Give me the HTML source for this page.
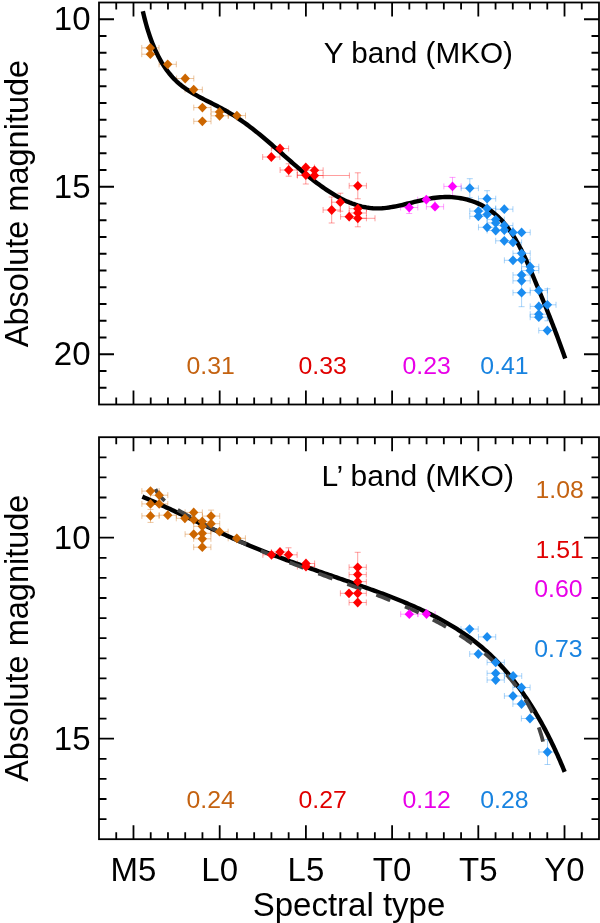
<!DOCTYPE html><html><head><meta charset="utf-8"><style>html,body{margin:0;padding:0;background:#fff;}svg{display:block;will-change:transform;}text{font-family:"Liberation Sans",sans-serif;}</style></head><body>
<svg width="600" height="923" viewBox="0 0 600 923">
<rect width="600" height="923" fill="#fff"/>
<g fill="none" stroke-width="1" stroke-opacity="0.38">
<path d="M141.78,47.90H159.02M141.78,44.90V50.90M159.02,44.90V50.90" stroke="#cc6600"/>
<path d="M141.78,54.20H159.02M141.78,51.20V57.20M159.02,51.20V57.20" stroke="#cc6600"/>
<path d="M159.08,64.30H176.32M159.08,61.30V67.30M176.32,61.30V67.30" stroke="#cc6600"/>
<path d="M176.58,78.50H193.82M176.58,75.50V81.50M193.82,75.50V81.50" stroke="#cc6600"/>
<path d="M185.08,89.60H202.32M185.08,86.60V92.60M202.32,86.60V92.60" stroke="#cc6600"/>
<path d="M193.78,107.60H211.02M193.78,104.60V110.60M211.02,104.60V110.60" stroke="#cc6600"/>
<path d="M193.78,121.30H211.02M193.78,118.30V124.30M211.02,118.30V124.30" stroke="#cc6600"/>
<path d="M210.98,111.90H228.22M210.98,108.90V114.90M228.22,108.90V114.90" stroke="#cc6600"/>
<path d="M210.98,115.80H228.22M210.98,112.80V118.80M228.22,112.80V118.80" stroke="#cc6600"/>
<path d="M228.28,115.60H245.52M228.28,112.60V118.60M245.52,112.60V118.60" stroke="#cc6600"/>
<path d="M271.38,148.50H288.62M271.38,145.50V151.50M288.62,145.50V151.50" stroke="#ff0000"/>
<path d="M262.68,157.00H279.92M262.68,154.00V160.00M279.92,154.00V160.00" stroke="#ff0000"/>
<path d="M280.08,170.00H297.32M280.08,167.00V173.00M297.32,167.00V173.00" stroke="#ff0000"/>
<path d="M288.70,163.80V176.20M285.70,163.80H291.70M285.70,176.20H291.70" stroke="#ff0000"/>
<path d="M297.18,167.50H314.42M297.18,164.50V170.50M314.42,164.50V170.50" stroke="#ff0000"/>
<path d="M297.18,175.00H314.42M297.18,172.00V178.00M314.42,172.00V178.00" stroke="#ff0000"/>
<path d="M305.80,166.00V184.00M302.80,166.00H308.80M302.80,184.00H308.80" stroke="#ff0000"/>
<path d="M305.88,170.30H323.12M305.88,167.30V173.30M323.12,167.30V173.30" stroke="#ff0000"/>
<path d="M305.88,175.50H323.12M305.88,172.50V178.50M323.12,172.50V178.50" stroke="#ff0000"/>
<path d="M349.18,185.80H366.42M349.18,182.80V188.80M366.42,182.80V188.80" stroke="#ff0000"/>
<path d="M357.80,172.80V198.80M354.80,172.80H360.80M354.80,198.80H360.80" stroke="#ff0000"/>
<path d="M331.68,202.20H348.92M331.68,199.20V205.20M348.92,199.20V205.20" stroke="#ff0000"/>
<path d="M340.30,193.20V211.20M337.30,193.20H343.30M337.30,211.20H343.30" stroke="#ff0000"/>
<path d="M323.08,210.00H340.32M323.08,207.00V213.00M340.32,207.00V213.00" stroke="#ff0000"/>
<path d="M331.70,197.00V223.00M328.70,197.00H334.70M328.70,223.00H334.70" stroke="#ff0000"/>
<path d="M340.58,216.70H357.82M340.58,213.70V219.70M357.82,213.70V219.70" stroke="#ff0000"/>
<path d="M349.18,208.70H366.42M349.18,205.70V211.70M366.42,205.70V211.70" stroke="#ff0000"/>
<path d="M349.18,213.00H366.42M349.18,210.00V216.00M366.42,210.00V216.00" stroke="#ff0000"/>
<path d="M349.18,218.30H366.42M349.18,215.30V221.30M366.42,215.30V221.30" stroke="#ff0000"/>
<path d="M357.80,209.80V226.80M354.80,209.80H360.80M354.80,226.80H360.80" stroke="#ff0000"/>
<path d="M400.58,207.50H417.82M400.58,204.50V210.50M417.82,204.50V210.50" stroke="#ff00ff"/>
<path d="M409.20,201.50V213.50M406.20,201.50H412.20M406.20,213.50H412.20" stroke="#ff00ff"/>
<path d="M417.68,199.70H434.92M417.68,196.70V202.70M434.92,196.70V202.70" stroke="#ff00ff"/>
<path d="M426.38,206.70H443.62M426.38,203.70V209.70M443.62,203.70V209.70" stroke="#ff00ff"/>
<path d="M443.88,186.40H461.12M443.88,183.40V189.40M461.12,183.40V189.40" stroke="#ff00ff"/>
<path d="M452.50,177.40V195.40M449.50,177.40H455.50M449.50,195.40H455.50" stroke="#ff00ff"/>
<path d="M461.18,188.20H478.42M461.18,185.20V191.20M478.42,185.20V191.20" stroke="#1a8cf0"/>
<path d="M469.80,178.70V197.70M466.80,178.70H472.80M466.80,197.70H472.80" stroke="#1a8cf0"/>
<path d="M478.48,198.70H495.72M478.48,195.70V201.70M495.72,195.70V201.70" stroke="#1a8cf0"/>
<path d="M487.10,190.70V206.70M484.10,190.70H490.10M484.10,206.70H490.10" stroke="#1a8cf0"/>
<path d="M469.78,211.10H487.02M469.78,208.10V214.10M487.02,208.10V214.10" stroke="#1a8cf0"/>
<path d="M469.78,216.30H487.02M469.78,213.30V219.30M487.02,213.30V219.30" stroke="#1a8cf0"/>
<path d="M478.48,208.40H495.72M478.48,205.40V211.40M495.72,205.40V211.40" stroke="#1a8cf0"/>
<path d="M478.48,214.40H495.72M478.48,211.40V217.40M495.72,211.40V217.40" stroke="#1a8cf0"/>
<path d="M495.68,209.20H512.92M495.68,206.20V212.20M512.92,206.20V212.20" stroke="#1a8cf0"/>
<path d="M487.08,219.60H504.32M487.08,216.60V222.60M504.32,216.60V222.60" stroke="#1a8cf0"/>
<path d="M487.08,222.90H504.32M487.08,219.90V225.90M504.32,219.90V225.90" stroke="#1a8cf0"/>
<path d="M478.48,227.30H495.72M478.48,224.30V230.30M495.72,224.30V230.30" stroke="#1a8cf0"/>
<path d="M487.08,230.50H504.32M487.08,227.50V233.50M504.32,227.50V233.50" stroke="#1a8cf0"/>
<path d="M495.68,225.50H512.92M495.68,222.50V228.50M512.92,222.50V228.50" stroke="#1a8cf0"/>
<path d="M495.68,230.00H512.92M495.68,227.00V233.00M512.92,227.00V233.00" stroke="#1a8cf0"/>
<path d="M504.38,232.40H521.62M504.38,229.40V235.40M521.62,229.40V235.40" stroke="#1a8cf0"/>
<path d="M512.98,232.40H530.22M512.98,229.40V235.40M530.22,229.40V235.40" stroke="#1a8cf0"/>
<path d="M495.68,240.80H512.92M495.68,237.80V243.80M512.92,237.80V243.80" stroke="#1a8cf0"/>
<path d="M504.38,242.40H521.62M504.38,239.40V245.40M521.62,239.40V245.40" stroke="#1a8cf0"/>
<path d="M512.98,253.30H530.22M512.98,250.30V256.30M530.22,250.30V256.30" stroke="#1a8cf0"/>
<path d="M504.38,260.30H521.62M504.38,257.30V263.30M521.62,257.30V263.30" stroke="#1a8cf0"/>
<path d="M512.98,259.70H530.22M512.98,256.70V262.70M530.22,256.70V262.70" stroke="#1a8cf0"/>
<path d="M521.58,266.70H538.82M521.58,263.70V269.70M538.82,263.70V269.70" stroke="#1a8cf0"/>
<path d="M521.58,270.50H538.82M521.58,267.50V273.50M538.82,267.50V273.50" stroke="#1a8cf0"/>
<path d="M512.98,275.00H530.22M512.98,272.00V278.00M530.22,272.00V278.00" stroke="#1a8cf0"/>
<path d="M512.98,280.80H530.22M512.98,277.80V283.80M530.22,277.80V283.80" stroke="#1a8cf0"/>
<path d="M512.98,292.70H530.22M512.98,289.70V295.70M530.22,289.70V295.70" stroke="#1a8cf0"/>
<path d="M521.60,278.70V306.70M518.60,278.70H524.60M518.60,306.70H524.60" stroke="#1a8cf0"/>
<path d="M530.18,290.40H547.42M530.18,287.40V293.40M547.42,287.40V293.40" stroke="#1a8cf0"/>
<path d="M538.78,304.80H556.02M538.78,301.80V307.80M556.02,301.80V307.80" stroke="#1a8cf0"/>
<path d="M547.40,288.80V320.80M544.40,288.80H550.40M544.40,320.80H550.40" stroke="#1a8cf0"/>
<path d="M530.18,306.40H547.42M530.18,303.40V309.40M547.42,303.40V309.40" stroke="#1a8cf0"/>
<path d="M530.18,314.20H547.42M530.18,311.20V317.20M547.42,311.20V317.20" stroke="#1a8cf0"/>
<path d="M530.18,317.20H547.42M530.18,314.20V320.20M547.42,314.20V320.20" stroke="#1a8cf0"/>
<path d="M538.78,330.50H556.02M538.78,327.50V333.50M556.02,327.50V333.50" stroke="#1a8cf0"/>
<path d="M297.4,175.5H349.4M297.4,172.5V178.5M349.4,172.5V178.5" stroke="#ff0000"/>
<path d="M357.8,218.3H375M357.8,215.3V221.3M375,215.3V221.3" stroke="#ff0000"/>
</g>
<path d="M142.85,11.25 L143.38,13.53 L143.92,15.82 L144.49,18.12 L145.08,20.41 L145.69,22.71 L146.33,25.01 L146.99,27.31 L147.68,29.61 L148.40,31.90 L149.14,34.18 L149.91,36.45 L150.71,38.72 L151.54,40.97 L152.40,43.20 L153.30,45.42 L154.22,47.62 L155.18,49.80 L156.17,51.96 L157.20,54.10 L158.26,56.21 L159.36,58.29 L160.50,60.34 L161.67,62.37 L162.89,64.36 L164.14,66.32 L165.44,68.24 L166.77,70.12 L168.15,71.96 L169.57,73.76 L171.04,75.52 L172.55,77.23 L174.11,78.90 L175.71,80.51 L177.36,82.08 L179.06,83.59 L180.81,85.05 L182.60,86.46 L184.44,87.83 L186.31,89.14 L188.23,90.42 L190.17,91.67 L192.15,92.87 L194.15,94.05 L196.18,95.20 L198.23,96.33 L200.30,97.44 L202.38,98.53 L204.47,99.61 L206.58,100.68 L208.69,101.75 L210.80,102.81 L212.91,103.87 L215.02,104.94 L217.12,106.01 L219.22,107.10 L221.30,108.20 L223.37,109.32 L225.41,110.46 L227.44,111.62 L229.45,112.81 L231.44,114.01 L233.41,115.24 L235.36,116.49 L237.30,117.76 L239.22,119.05 L241.12,120.36 L243.01,121.69 L244.89,123.03 L246.75,124.39 L248.60,125.77 L250.44,127.16 L252.27,128.57 L254.08,129.99 L255.89,131.42 L257.69,132.86 L259.48,134.32 L261.26,135.79 L263.04,137.27 L264.81,138.75 L266.58,140.25 L268.34,141.76 L270.09,143.27 L271.85,144.79 L273.60,146.31 L275.35,147.84 L277.10,149.38 L278.85,150.92 L280.60,152.46 L282.35,154.00 L284.10,155.55 L285.85,157.10 L287.61,158.65 L289.38,160.19 L291.14,161.74 L292.92,163.29 L294.70,164.83 L296.48,166.37 L298.28,167.90 L300.08,169.44 L301.89,170.96 L303.72,172.48 L305.55,174.00 L307.39,175.50 L309.25,177.00 L311.12,178.49 L313.00,179.97 L314.90,181.44 L316.81,182.89 L318.73,184.33 L320.67,185.74 L322.62,187.14 L324.58,188.51 L326.55,189.86 L328.54,191.17 L330.53,192.46 L332.54,193.71 L334.57,194.93 L336.60,196.11 L338.65,197.26 L340.71,198.36 L342.78,199.41 L344.86,200.42 L346.96,201.38 L349.06,202.29 L351.18,203.15 L353.31,203.95 L355.45,204.69 L357.60,205.37 L359.76,205.99 L361.93,206.54 L364.12,207.03 L366.31,207.45 L368.52,207.79 L370.73,208.07 L372.96,208.26 L375.20,208.38 L377.44,208.42 L379.70,208.38 L381.97,208.26 L384.24,208.08 L386.53,207.83 L388.82,207.53 L391.12,207.17 L393.42,206.77 L395.73,206.33 L398.05,205.85 L400.37,205.34 L402.70,204.81 L405.03,204.25 L407.37,203.69 L409.71,203.11 L412.05,202.53 L414.39,201.95 L416.73,201.38 L419.08,200.82 L421.43,200.28 L423.77,199.76 L426.12,199.27 L428.46,198.81 L430.80,198.40 L433.14,198.03 L435.48,197.70 L437.82,197.44 L440.15,197.23 L442.47,197.09 L444.79,197.01 L447.11,197.00 L449.41,197.04 L451.70,197.16 L453.98,197.33 L456.25,197.57 L458.50,197.87 L460.74,198.23 L462.96,198.66 L465.16,199.15 L467.34,199.70 L469.50,200.31 L471.63,200.98 L473.74,201.72 L475.82,202.52 L477.88,203.38 L479.90,204.30 L481.90,205.29 L483.86,206.33 L485.79,207.44 L487.68,208.61 L489.54,209.84 L491.36,211.13 L493.14,212.48 L494.88,213.89 L496.57,215.36 L498.23,216.90 L499.85,218.48 L501.42,220.12 L502.96,221.81 L504.46,223.56 L505.93,225.34 L507.36,227.18 L508.76,229.05 L510.13,230.97 L511.46,232.92 L512.76,234.91 L514.04,236.93 L515.28,238.98 L516.50,241.06 L517.69,243.16 L518.86,245.29 L520.00,247.44 L521.12,249.62 L522.22,251.80 L523.30,254.00 L524.35,256.22 L525.39,258.44 L526.41,260.67 L527.42,262.91 L528.41,265.15 L529.38,267.39 L530.34,269.63 L531.29,271.86 L532.23,274.09 L533.15,276.31 L534.07,278.52 L534.98,280.72 L535.88,282.90 L536.78,285.07 L537.67,287.22 L538.56,289.36 L539.43,291.49 L540.31,293.61 L541.17,295.73 L542.04,297.83 L542.89,299.93 L543.75,302.02 L544.59,304.11 L545.44,306.20 L546.28,308.29 L547.12,310.37 L547.95,312.46 L548.78,314.55 L549.61,316.64 L550.44,318.73 L551.26,320.84 L552.09,322.94 L552.91,325.06 L553.73,327.19 L554.55,329.32 L555.37,331.47 L556.18,333.63 L557.00,335.80 L557.82,337.99 L558.64,340.20 L559.46,342.42 L560.28,344.66 L561.10,346.92 L561.92,349.21 L562.74,351.51 L563.57,353.84 L564.40,356.19 L565.23,358.57" fill="none" stroke="#000" stroke-width="4.4"/>
<path d="M150.40,43.00 L155.10,47.90 L150.40,52.80 L145.70,47.90Z" fill="#cc6600"/>
<path d="M150.40,49.30 L155.10,54.20 L150.40,59.10 L145.70,54.20Z" fill="#cc6600"/>
<path d="M167.70,59.40 L172.40,64.30 L167.70,69.20 L163.00,64.30Z" fill="#cc6600"/>
<path d="M185.20,73.60 L189.90,78.50 L185.20,83.40 L180.50,78.50Z" fill="#cc6600"/>
<path d="M193.70,84.70 L198.40,89.60 L193.70,94.50 L189.00,89.60Z" fill="#cc6600"/>
<path d="M202.40,102.70 L207.10,107.60 L202.40,112.50 L197.70,107.60Z" fill="#cc6600"/>
<path d="M202.40,116.40 L207.10,121.30 L202.40,126.20 L197.70,121.30Z" fill="#cc6600"/>
<path d="M219.60,107.00 L224.30,111.90 L219.60,116.80 L214.90,111.90Z" fill="#cc6600"/>
<path d="M219.60,110.90 L224.30,115.80 L219.60,120.70 L214.90,115.80Z" fill="#cc6600"/>
<path d="M236.90,110.70 L241.60,115.60 L236.90,120.50 L232.20,115.60Z" fill="#cc6600"/>
<path d="M280.00,143.60 L284.70,148.50 L280.00,153.40 L275.30,148.50Z" fill="#ff0000"/>
<path d="M271.30,152.10 L276.00,157.00 L271.30,161.90 L266.60,157.00Z" fill="#ff0000"/>
<path d="M288.70,165.10 L293.40,170.00 L288.70,174.90 L284.00,170.00Z" fill="#ff0000"/>
<path d="M305.80,162.60 L310.50,167.50 L305.80,172.40 L301.10,167.50Z" fill="#ff0000"/>
<path d="M305.80,170.10 L310.50,175.00 L305.80,179.90 L301.10,175.00Z" fill="#ff0000"/>
<path d="M314.50,165.40 L319.20,170.30 L314.50,175.20 L309.80,170.30Z" fill="#ff0000"/>
<path d="M314.50,170.60 L319.20,175.50 L314.50,180.40 L309.80,175.50Z" fill="#ff0000"/>
<path d="M357.80,180.90 L362.50,185.80 L357.80,190.70 L353.10,185.80Z" fill="#ff0000"/>
<path d="M340.30,197.30 L345.00,202.20 L340.30,207.10 L335.60,202.20Z" fill="#ff0000"/>
<path d="M331.70,205.10 L336.40,210.00 L331.70,214.90 L327.00,210.00Z" fill="#ff0000"/>
<path d="M349.20,211.80 L353.90,216.70 L349.20,221.60 L344.50,216.70Z" fill="#ff0000"/>
<path d="M357.80,203.80 L362.50,208.70 L357.80,213.60 L353.10,208.70Z" fill="#ff0000"/>
<path d="M357.80,208.10 L362.50,213.00 L357.80,217.90 L353.10,213.00Z" fill="#ff0000"/>
<path d="M357.80,213.40 L362.50,218.30 L357.80,223.20 L353.10,218.30Z" fill="#ff0000"/>
<path d="M409.20,202.60 L413.90,207.50 L409.20,212.40 L404.50,207.50Z" fill="#ff00ff"/>
<path d="M426.30,194.80 L431.00,199.70 L426.30,204.60 L421.60,199.70Z" fill="#ff00ff"/>
<path d="M435.00,201.80 L439.70,206.70 L435.00,211.60 L430.30,206.70Z" fill="#ff00ff"/>
<path d="M452.50,181.50 L457.20,186.40 L452.50,191.30 L447.80,186.40Z" fill="#ff00ff"/>
<path d="M469.80,183.30 L474.50,188.20 L469.80,193.10 L465.10,188.20Z" fill="#1a8cf0"/>
<path d="M487.10,193.80 L491.80,198.70 L487.10,203.60 L482.40,198.70Z" fill="#1a8cf0"/>
<path d="M478.40,206.20 L483.10,211.10 L478.40,216.00 L473.70,211.10Z" fill="#1a8cf0"/>
<path d="M478.40,211.40 L483.10,216.30 L478.40,221.20 L473.70,216.30Z" fill="#1a8cf0"/>
<path d="M487.10,203.50 L491.80,208.40 L487.10,213.30 L482.40,208.40Z" fill="#1a8cf0"/>
<path d="M487.10,209.50 L491.80,214.40 L487.10,219.30 L482.40,214.40Z" fill="#1a8cf0"/>
<path d="M504.30,204.30 L509.00,209.20 L504.30,214.10 L499.60,209.20Z" fill="#1a8cf0"/>
<path d="M495.70,214.70 L500.40,219.60 L495.70,224.50 L491.00,219.60Z" fill="#1a8cf0"/>
<path d="M495.70,218.00 L500.40,222.90 L495.70,227.80 L491.00,222.90Z" fill="#1a8cf0"/>
<path d="M487.10,222.40 L491.80,227.30 L487.10,232.20 L482.40,227.30Z" fill="#1a8cf0"/>
<path d="M495.70,225.60 L500.40,230.50 L495.70,235.40 L491.00,230.50Z" fill="#1a8cf0"/>
<path d="M504.30,220.60 L509.00,225.50 L504.30,230.40 L499.60,225.50Z" fill="#1a8cf0"/>
<path d="M504.30,225.10 L509.00,230.00 L504.30,234.90 L499.60,230.00Z" fill="#1a8cf0"/>
<path d="M513.00,227.50 L517.70,232.40 L513.00,237.30 L508.30,232.40Z" fill="#1a8cf0"/>
<path d="M521.60,227.50 L526.30,232.40 L521.60,237.30 L516.90,232.40Z" fill="#1a8cf0"/>
<path d="M504.30,235.90 L509.00,240.80 L504.30,245.70 L499.60,240.80Z" fill="#1a8cf0"/>
<path d="M513.00,237.50 L517.70,242.40 L513.00,247.30 L508.30,242.40Z" fill="#1a8cf0"/>
<path d="M521.60,248.40 L526.30,253.30 L521.60,258.20 L516.90,253.30Z" fill="#1a8cf0"/>
<path d="M513.00,255.40 L517.70,260.30 L513.00,265.20 L508.30,260.30Z" fill="#1a8cf0"/>
<path d="M521.60,254.80 L526.30,259.70 L521.60,264.60 L516.90,259.70Z" fill="#1a8cf0"/>
<path d="M530.20,261.80 L534.90,266.70 L530.20,271.60 L525.50,266.70Z" fill="#1a8cf0"/>
<path d="M530.20,265.60 L534.90,270.50 L530.20,275.40 L525.50,270.50Z" fill="#1a8cf0"/>
<path d="M521.60,270.10 L526.30,275.00 L521.60,279.90 L516.90,275.00Z" fill="#1a8cf0"/>
<path d="M521.60,275.90 L526.30,280.80 L521.60,285.70 L516.90,280.80Z" fill="#1a8cf0"/>
<path d="M521.60,287.80 L526.30,292.70 L521.60,297.60 L516.90,292.70Z" fill="#1a8cf0"/>
<path d="M538.80,285.50 L543.50,290.40 L538.80,295.30 L534.10,290.40Z" fill="#1a8cf0"/>
<path d="M547.40,299.90 L552.10,304.80 L547.40,309.70 L542.70,304.80Z" fill="#1a8cf0"/>
<path d="M538.80,301.50 L543.50,306.40 L538.80,311.30 L534.10,306.40Z" fill="#1a8cf0"/>
<path d="M538.80,309.30 L543.50,314.20 L538.80,319.10 L534.10,314.20Z" fill="#1a8cf0"/>
<path d="M538.80,312.30 L543.50,317.20 L538.80,322.10 L534.10,317.20Z" fill="#1a8cf0"/>
<path d="M547.40,325.60 L552.10,330.50 L547.40,335.40 L542.70,330.50Z" fill="#1a8cf0"/>
<rect x="99.0" y="2.5" width="500.0" height="402.0" fill="none" stroke="#000" stroke-width="1.8"/>
<path d="M116.24,404.50v-7M116.24,2.50v7M133.48,404.50v-14M133.48,2.50v14M150.72,404.50v-7M150.72,2.50v7M167.97,404.50v-7M167.97,2.50v7M185.21,404.50v-7M185.21,2.50v7M202.45,404.50v-7M202.45,2.50v7M219.69,404.50v-14M219.69,2.50v14M236.93,404.50v-7M236.93,2.50v7M254.17,404.50v-7M254.17,2.50v7M271.41,404.50v-7M271.41,2.50v7M288.66,404.50v-7M288.66,2.50v7M305.90,404.50v-14M305.90,2.50v14M323.14,404.50v-7M323.14,2.50v7M340.38,404.50v-7M340.38,2.50v7M357.62,404.50v-7M357.62,2.50v7M374.86,404.50v-7M374.86,2.50v7M392.10,404.50v-14M392.10,2.50v14M409.34,404.50v-7M409.34,2.50v7M426.59,404.50v-7M426.59,2.50v7M443.83,404.50v-7M443.83,2.50v7M461.07,404.50v-7M461.07,2.50v7M478.31,404.50v-14M478.31,2.50v14M495.55,404.50v-7M495.55,2.50v7M512.79,404.50v-7M512.79,2.50v7M530.03,404.50v-7M530.03,2.50v7M547.28,404.50v-7M547.28,2.50v7M564.52,404.50v-14M564.52,2.50v14M581.76,404.50v-7M581.76,2.50v7M99.0,19.25h15M599.0,19.25h-15M99.0,36.00h7.5M599.0,36.00h-7.5M99.0,52.75h7.5M599.0,52.75h-7.5M99.0,69.50h7.5M599.0,69.50h-7.5M99.0,86.25h7.5M599.0,86.25h-7.5M99.0,103.00h7.5M599.0,103.00h-7.5M99.0,119.75h7.5M599.0,119.75h-7.5M99.0,136.50h7.5M599.0,136.50h-7.5M99.0,153.25h7.5M599.0,153.25h-7.5M99.0,170.00h7.5M599.0,170.00h-7.5M99.0,186.75h15M599.0,186.75h-15M99.0,203.50h7.5M599.0,203.50h-7.5M99.0,220.25h7.5M599.0,220.25h-7.5M99.0,237.00h7.5M599.0,237.00h-7.5M99.0,253.75h7.5M599.0,253.75h-7.5M99.0,270.50h7.5M599.0,270.50h-7.5M99.0,287.25h7.5M599.0,287.25h-7.5M99.0,304.00h7.5M599.0,304.00h-7.5M99.0,320.75h7.5M599.0,320.75h-7.5M99.0,337.50h7.5M599.0,337.50h-7.5M99.0,354.25h15M599.0,354.25h-15M99.0,371.00h7.5M599.0,371.00h-7.5M99.0,387.75h7.5M599.0,387.75h-7.5" stroke="#000" stroke-width="1.8" fill="none"/>
<text x="90.5" y="30.45" text-anchor="end" font-size="33">10</text>
<text x="90.5" y="197.95" text-anchor="end" font-size="33">15</text>
<text x="90.5" y="365.45" text-anchor="end" font-size="33">20</text>
<g fill="none" stroke-width="1" stroke-opacity="0.38">
<path d="M141.88,491.10H159.12M141.88,488.10V494.10M159.12,488.10V494.10" stroke="#cc6600"/>
<path d="M150.58,495.20H167.82M150.58,492.20V498.20M167.82,492.20V498.20" stroke="#cc6600"/>
<path d="M141.88,503.90H159.12M141.88,500.90V506.90M159.12,500.90V506.90" stroke="#cc6600"/>
<path d="M150.58,503.90H167.82M150.58,500.90V506.90M167.82,500.90V506.90" stroke="#cc6600"/>
<path d="M141.88,515.90H159.12M141.88,512.90V518.90M159.12,512.90V518.90" stroke="#cc6600"/>
<path d="M150.50,509.40V522.40M147.50,509.40H153.50M147.50,522.40H153.50" stroke="#cc6600"/>
<path d="M159.18,515.20H176.42M159.18,512.20V518.20M176.42,512.20V518.20" stroke="#cc6600"/>
<path d="M176.28,518.30H193.52M176.28,515.30V521.30M193.52,515.30V521.30" stroke="#cc6600"/>
<path d="M185.08,512.40H202.32M185.08,509.40V515.40M202.32,509.40V515.40" stroke="#cc6600"/>
<path d="M185.08,519.70H202.32M185.08,516.70V522.70M202.32,516.70V522.70" stroke="#cc6600"/>
<path d="M185.08,534.20H202.32M185.08,531.20V537.20M202.32,531.20V537.20" stroke="#cc6600"/>
<path d="M193.68,521.40H210.92M193.68,518.40V524.40M210.92,518.40V524.40" stroke="#cc6600"/>
<path d="M193.68,526.30H210.92M193.68,523.30V529.30M210.92,523.30V529.30" stroke="#cc6600"/>
<path d="M193.68,533.30H210.92M193.68,530.30V536.30M210.92,530.30V536.30" stroke="#cc6600"/>
<path d="M193.68,538.80H210.92M193.68,535.80V541.80M210.92,535.80V541.80" stroke="#cc6600"/>
<path d="M193.68,547.20H210.92M193.68,544.20V550.20M210.92,544.20V550.20" stroke="#cc6600"/>
<path d="M202.48,516.10H219.72M202.48,513.10V519.10M219.72,513.10V519.10" stroke="#cc6600"/>
<path d="M211.10,510.10V522.10M208.10,510.10H214.10M208.10,522.10H214.10" stroke="#cc6600"/>
<path d="M202.48,523.70H219.72M202.48,520.70V526.70M219.72,520.70V526.70" stroke="#cc6600"/>
<path d="M210.88,531.70H228.12M210.88,528.70V534.70M228.12,528.70V534.70" stroke="#cc6600"/>
<path d="M228.18,538.30H245.42M228.18,535.30V541.30M245.42,535.30V541.30" stroke="#cc6600"/>
<path d="M262.88,554.80H280.12M262.88,551.80V557.80M280.12,551.80V557.80" stroke="#ff0000"/>
<path d="M271.38,552.00H288.62M271.38,549.00V555.00M288.62,549.00V555.00" stroke="#ff0000"/>
<path d="M279.88,554.80H297.12M279.88,551.80V557.80M297.12,551.80V557.80" stroke="#ff0000"/>
<path d="M288.50,547.80V561.80M285.50,547.80H291.50M285.50,561.80H291.50" stroke="#ff0000"/>
<path d="M297.38,563.50H314.62M297.38,560.50V566.50M314.62,560.50V566.50" stroke="#ff0000"/>
<path d="M297.38,566.50H314.62M297.38,563.50V569.50M314.62,563.50V569.50" stroke="#ff0000"/>
<path d="M349.08,567.30H366.32M349.08,564.30V570.30M366.32,564.30V570.30" stroke="#ff0000"/>
<path d="M357.70,552.30V582.30M354.70,552.30H360.70M354.70,582.30H360.70" stroke="#ff0000"/>
<path d="M349.08,574.60H366.32M349.08,571.60V577.60M366.32,571.60V577.60" stroke="#ff0000"/>
<path d="M349.08,581.70H366.32M349.08,578.70V584.70M366.32,578.70V584.70" stroke="#ff0000"/>
<path d="M349.08,593.30H366.32M349.08,590.30V596.30M366.32,590.30V596.30" stroke="#ff0000"/>
<path d="M340.38,593.30H357.62M340.38,590.30V596.30M357.62,590.30V596.30" stroke="#ff0000"/>
<path d="M349.08,602.50H366.32M349.08,599.50V605.50M366.32,599.50V605.50" stroke="#ff0000"/>
<path d="M400.68,614.20H417.92M400.68,611.20V617.20M417.92,611.20V617.20" stroke="#ff00ff"/>
<path d="M417.88,614.00H435.12M417.88,611.00V617.00M435.12,611.00V617.00" stroke="#ff00ff"/>
<path d="M460.98,629.10H478.22M460.98,626.10V632.10M478.22,626.10V632.10" stroke="#1a8cf0"/>
<path d="M478.48,636.90H495.72M478.48,633.90V639.90M495.72,633.90V639.90" stroke="#1a8cf0"/>
<path d="M469.68,654.00H486.92M469.68,651.00V657.00M486.92,651.00V657.00" stroke="#1a8cf0"/>
<path d="M487.08,662.40H504.32M487.08,659.40V665.40M504.32,659.40V665.40" stroke="#1a8cf0"/>
<path d="M487.08,673.30H504.32M487.08,670.30V676.30M504.32,670.30V676.30" stroke="#1a8cf0"/>
<path d="M487.08,680.00H504.32M487.08,677.00V683.00M504.32,677.00V683.00" stroke="#1a8cf0"/>
<path d="M504.48,676.00H521.72M504.48,673.00V679.00M521.72,673.00V679.00" stroke="#1a8cf0"/>
<path d="M512.88,687.50H530.12M512.88,684.50V690.50M530.12,684.50V690.50" stroke="#1a8cf0"/>
<path d="M504.38,696.00H521.62M504.38,693.00V699.00M521.62,693.00V699.00" stroke="#1a8cf0"/>
<path d="M512.88,704.00H530.12M512.88,701.00V707.00M530.12,701.00V707.00" stroke="#1a8cf0"/>
<path d="M521.38,718.50H538.62M521.38,715.50V721.50M538.62,715.50V721.50" stroke="#1a8cf0"/>
<path d="M538.88,752.00H556.12M538.88,749.00V755.00M556.12,749.00V755.00" stroke="#1a8cf0"/>
<path d="M547.50,739.50V764.50M544.50,739.50H550.50M544.50,764.50H550.50" stroke="#1a8cf0"/>
</g>
<path d="M142.35,496.64 L144.20,497.45 L146.06,498.26 L147.92,499.07 L149.77,499.89 L151.62,500.71 L153.47,501.54 L155.32,502.37 L157.17,503.20 L159.02,504.04 L160.86,504.88 L162.70,505.72 L164.55,506.57 L166.39,507.42 L168.23,508.27 L170.07,509.12 L171.91,509.97 L173.74,510.83 L175.58,511.68 L177.42,512.54 L179.25,513.40 L181.09,514.26 L182.92,515.13 L184.75,515.99 L186.59,516.85 L188.42,517.72 L190.25,518.58 L192.09,519.45 L193.92,520.31 L195.75,521.18 L197.58,522.04 L199.42,522.90 L201.25,523.77 L203.08,524.63 L204.91,525.49 L206.75,526.35 L208.58,527.21 L210.42,528.06 L212.25,528.92 L214.09,529.77 L215.92,530.62 L217.76,531.47 L219.60,532.32 L221.44,533.16 L223.28,534.00 L225.12,534.84 L226.96,535.68 L228.80,536.51 L230.65,537.34 L232.49,538.16 L234.34,538.98 L236.19,539.80 L238.04,540.61 L239.89,541.42 L241.74,542.23 L243.60,543.03 L245.46,543.82 L247.31,544.61 L249.17,545.40 L251.04,546.18 L252.90,546.95 L254.77,547.72 L256.64,548.49 L258.51,549.24 L260.38,550.00 L262.25,550.74 L264.13,551.49 L266.01,552.23 L267.89,552.96 L269.77,553.69 L271.66,554.41 L273.54,555.13 L275.43,555.85 L277.32,556.56 L279.21,557.27 L281.10,557.97 L282.99,558.67 L284.89,559.37 L286.78,560.07 L288.68,560.76 L290.58,561.45 L292.48,562.13 L294.38,562.81 L296.29,563.49 L298.19,564.17 L300.10,564.85 L302.00,565.52 L303.91,566.19 L305.82,566.86 L307.73,567.53 L309.64,568.19 L311.55,568.86 L313.46,569.52 L315.37,570.18 L317.28,570.84 L319.20,571.50 L321.11,572.16 L323.03,572.82 L324.94,573.48 L326.86,574.13 L328.78,574.79 L330.69,575.45 L332.61,576.10 L334.53,576.76 L336.45,577.42 L338.37,578.08 L340.29,578.73 L342.21,579.39 L344.12,580.05 L346.04,580.71 L347.96,581.38 L349.88,582.04 L351.80,582.71 L353.72,583.37 L355.64,584.04 L357.56,584.71 L359.48,585.38 L361.40,586.06 L363.32,586.73 L365.23,587.41 L367.15,588.09 L369.07,588.78 L370.98,589.47 L372.90,590.16 L374.81,590.85 L376.72,591.55 L378.63,592.25 L380.54,592.96 L382.45,593.67 L384.35,594.38 L386.25,595.10 L388.15,595.83 L390.05,596.56 L391.94,597.29 L393.83,598.03 L395.72,598.78 L397.60,599.53 L399.48,600.29 L401.36,601.05 L403.24,601.82 L405.11,602.60 L406.97,603.39 L408.83,604.18 L410.69,604.98 L412.54,605.78 L414.39,606.60 L416.23,607.42 L418.07,608.25 L419.90,609.09 L421.73,609.93 L423.55,610.79 L425.37,611.65 L427.18,612.53 L428.98,613.41 L430.78,614.30 L432.57,615.20 L434.35,616.12 L436.13,617.04 L437.90,617.97 L439.66,618.91 L441.42,619.87 L443.17,620.83 L444.91,621.80 L446.65,622.79 L448.37,623.79 L450.09,624.80 L451.80,625.82 L453.50,626.85 L455.20,627.90 L456.88,628.96 L458.56,630.03 L460.22,631.11 L461.88,632.21 L463.53,633.32 L465.17,634.45 L466.80,635.58 L468.42,636.74 L470.03,637.90 L471.63,639.08 L473.21,640.28 L474.79,641.48 L476.36,642.71 L477.92,643.95 L479.46,645.20 L481.00,646.47 L482.52,647.76 L484.03,649.06 L485.53,650.38 L487.02,651.71 L488.50,653.06 L489.97,654.43 L491.42,655.81 L492.86,657.21 L494.29,658.62 L495.71,660.05 L497.12,661.49 L498.51,662.95 L499.89,664.42 L501.27,665.90 L502.63,667.40 L503.97,668.91 L505.31,670.44 L506.64,671.97 L507.95,673.52 L509.26,675.09 L510.55,676.66 L511.83,678.25 L513.10,679.84 L514.36,681.45 L515.61,683.07 L516.84,684.70 L518.07,686.34 L519.28,687.99 L520.49,689.65 L521.68,691.32 L522.86,693.00 L524.03,694.69 L525.19,696.39 L526.34,698.09 L527.48,699.80 L528.61,701.53 L529.72,703.25 L530.83,704.99 L531.93,706.73 L533.01,708.48 L534.09,710.24 L535.15,712.00 L536.21,713.77 L537.25,715.54 L538.29,717.32 L539.31,719.11 L540.32,720.90 L541.33,722.69 L542.32,724.49 L543.30,726.29 L544.27,728.10 L545.24,729.91 L546.19,731.72 L547.13,733.54 L548.06,735.36 L548.99,737.18 L549.90,739.00 L550.80,740.83 L551.69,742.65 L552.58,744.48 L553.45,746.31 L554.32,748.14 L555.17,749.97 L556.01,751.80 L556.85,753.63 L557.68,755.46 L558.49,757.29 L559.30,759.12 L560.10,760.95 L560.88,762.77 L561.66,764.60 L562.43,766.42 L563.19,768.24 L563.94,770.06 L564.69,771.87" fill="none" stroke="#000" stroke-width="4.4"/>
<path d="M154.78,487.98 L155.70,489.77 L156.68,491.47 L157.75,493.10 L158.87,494.65 L160.07,496.13 L161.32,497.54 L162.63,498.89 L163.98,500.18 L165.39,501.41 L166.84,502.60 L168.33,503.75 L169.85,504.85 L171.40,505.92 L172.98,506.95 L174.58,507.96 L176.20,508.95 L177.83,509.92 L179.48,510.87 L181.13,511.82 L182.78,512.76 L184.43,513.69 L186.09,514.62 L187.74,515.54 L189.40,516.46 L191.06,517.37 L192.73,518.28 L194.39,519.18 L196.06,520.07 L197.73,520.96 L199.40,521.85 L201.08,522.73 L202.76,523.61 L204.43,524.48 L206.11,525.34 L207.80,526.20 L209.48,527.06 L211.17,527.91 L212.85,528.76 L214.54,529.60 L216.23,530.43 L217.93,531.27 L219.62,532.09 L221.32,532.92 L223.02,533.74 L224.72,534.55 L226.42,535.36 L228.13,536.17 L229.84,536.97 L231.54,537.77 L233.25,538.56 L234.97,539.35 L236.68,540.14 L238.40,540.92 L240.11,541.70 L241.83,542.48 L243.55,543.25 L245.27,544.01 L247.00,544.78 L248.72,545.54 L250.45,546.29 L252.18,547.05 L253.91,547.80 L255.64,548.54 L257.37,549.29 L259.11,550.03 L260.85,550.76 L262.58,551.50 L264.32,552.23 L266.07,552.96 L267.81,553.68 L269.55,554.40 L271.30,555.12 L273.05,555.84 L274.79,556.55 L276.55,557.26 L278.30,557.97 L280.05,558.67 L281.80,559.38 L283.56,560.08 L285.32,560.78 L287.08,561.47 L288.84,562.17 L290.60,562.86 L292.36,563.55 L294.12,564.23 L295.89,564.92 L297.66,565.60 L299.42,566.28 L301.19,566.96 L302.96,567.64 L304.73,568.31 L306.51,568.99 L308.28,569.66 L310.06,570.33 L311.83,571.00 L313.61,571.67 L315.39,572.33 L317.17,573.00 L318.95,573.66 L320.73,574.32 L322.51,574.98 L324.30,575.64 L326.08,576.30 L327.87,576.96 L329.66,577.61 L331.45,578.27 L333.23,578.92 L335.02,579.58 L336.82,580.23 L338.61,580.88 L340.40,581.53 L342.19,582.19 L343.99,582.84 L345.78,583.49 L347.57,584.15 L349.36,584.80 L351.16,585.45 L352.95,586.11 L354.74,586.77 L356.54,587.43 L358.33,588.08 L360.12,588.75 L361.91,589.41 L363.70,590.07 L365.49,590.74 L367.28,591.41 L369.06,592.08 L370.85,592.75 L372.64,593.43 L374.42,594.11 L376.20,594.79 L377.98,595.47 L379.76,596.16 L381.54,596.85 L383.31,597.55 L385.08,598.25 L386.85,598.95 L388.62,599.65 L390.39,600.37 L392.15,601.08 L393.91,601.80 L395.67,602.52 L397.43,603.25 L399.18,603.99 L400.93,604.73 L402.68,605.47 L404.42,606.22 L406.17,606.98 L407.90,607.74 L409.64,608.51 L411.37,609.28 L413.10,610.06 L414.82,610.85 L416.54,611.64 L418.26,612.44 L419.97,613.24 L421.68,614.06 L423.38,614.88 L425.08,615.71 L426.77,616.54 L428.47,617.38 L430.15,618.23 L431.83,619.09 L433.51,619.96 L435.18,620.84 L436.85,621.72 L438.51,622.61 L440.17,623.51 L441.82,624.42 L443.46,625.34 L445.10,626.27 L446.74,627.21 L448.36,628.15 L449.99,629.11 L451.60,630.08 L453.22,631.05 L454.82,632.04 L456.42,633.04 L458.01,634.04 L459.60,635.06 L461.18,636.09 L462.75,637.13 L464.32,638.18 L465.88,639.24 L467.43,640.32 L468.97,641.40 L470.51,642.50 L472.04,643.61 L473.56,644.73 L475.08,645.86 L476.58,647.00 L478.08,648.15 L479.57,649.32 L481.05,650.50 L482.52,651.69 L483.98,652.89 L485.43,654.10 L486.87,655.32 L488.30,656.56 L489.72,657.81 L491.12,659.07 L492.52,660.34 L493.91,661.62 L495.28,662.91 L496.64,664.22 L497.99,665.54 L499.33,666.87 L500.65,668.21 L501.96,669.56 L503.26,670.93 L504.55,672.31 L505.82,673.70 L507.07,675.10 L508.31,676.51 L509.54,677.94 L510.75,679.37 L511.95,680.82 L513.14,682.28 L514.30,683.76 L515.45,685.24 L516.59,686.74 L517.71,688.25 L518.81,689.77 L519.89,691.30 L520.96,692.85 L522.01,694.41 L523.05,695.98 L524.06,697.56 L525.06,699.15 L526.04,700.76 L527.00,702.38 L527.94,704.01 L528.86,705.65 L529.76,707.31 L530.65,708.98 L531.51,710.66 L532.35,712.35 L533.17,714.05 L533.98,715.77 L534.76,717.50 L535.52,719.24 L536.26,721.00 L536.97,722.76 L537.67,724.54 L538.34,726.33 L538.99,728.14 L539.61,729.95 L540.22,731.78 L540.80,733.62 L541.36,735.48 L541.89,737.34 L542.40,739.22 L542.88,741.11 L543.35,743.02 L543.78,744.94 L544.19,746.86 L544.58,748.81 L544.94,750.76 L545.27,752.73" fill="none" stroke="#444" stroke-width="3.8" stroke-dasharray="15 15.9" stroke-dashoffset="-1.35"/>
<path d="M150.50,486.20 L155.20,491.10 L150.50,496.00 L145.80,491.10Z" fill="#cc6600"/>
<path d="M159.20,490.30 L163.90,495.20 L159.20,500.10 L154.50,495.20Z" fill="#cc6600"/>
<path d="M150.50,499.00 L155.20,503.90 L150.50,508.80 L145.80,503.90Z" fill="#cc6600"/>
<path d="M159.20,499.00 L163.90,503.90 L159.20,508.80 L154.50,503.90Z" fill="#cc6600"/>
<path d="M150.50,511.00 L155.20,515.90 L150.50,520.80 L145.80,515.90Z" fill="#cc6600"/>
<path d="M167.80,510.30 L172.50,515.20 L167.80,520.10 L163.10,515.20Z" fill="#cc6600"/>
<path d="M184.90,513.40 L189.60,518.30 L184.90,523.20 L180.20,518.30Z" fill="#cc6600"/>
<path d="M193.70,507.50 L198.40,512.40 L193.70,517.30 L189.00,512.40Z" fill="#cc6600"/>
<path d="M193.70,514.80 L198.40,519.70 L193.70,524.60 L189.00,519.70Z" fill="#cc6600"/>
<path d="M193.70,529.30 L198.40,534.20 L193.70,539.10 L189.00,534.20Z" fill="#cc6600"/>
<path d="M202.30,516.50 L207.00,521.40 L202.30,526.30 L197.60,521.40Z" fill="#cc6600"/>
<path d="M202.30,521.40 L207.00,526.30 L202.30,531.20 L197.60,526.30Z" fill="#cc6600"/>
<path d="M202.30,528.40 L207.00,533.30 L202.30,538.20 L197.60,533.30Z" fill="#cc6600"/>
<path d="M202.30,533.90 L207.00,538.80 L202.30,543.70 L197.60,538.80Z" fill="#cc6600"/>
<path d="M202.30,542.30 L207.00,547.20 L202.30,552.10 L197.60,547.20Z" fill="#cc6600"/>
<path d="M211.10,511.20 L215.80,516.10 L211.10,521.00 L206.40,516.10Z" fill="#cc6600"/>
<path d="M211.10,518.80 L215.80,523.70 L211.10,528.60 L206.40,523.70Z" fill="#cc6600"/>
<path d="M219.50,526.80 L224.20,531.70 L219.50,536.60 L214.80,531.70Z" fill="#cc6600"/>
<path d="M236.80,533.40 L241.50,538.30 L236.80,543.20 L232.10,538.30Z" fill="#cc6600"/>
<path d="M271.50,549.90 L276.20,554.80 L271.50,559.70 L266.80,554.80Z" fill="#ff0000"/>
<path d="M280.00,547.10 L284.70,552.00 L280.00,556.90 L275.30,552.00Z" fill="#ff0000"/>
<path d="M288.50,549.90 L293.20,554.80 L288.50,559.70 L283.80,554.80Z" fill="#ff0000"/>
<path d="M306.00,558.60 L310.70,563.50 L306.00,568.40 L301.30,563.50Z" fill="#ff0000"/>
<path d="M306.00,561.60 L310.70,566.50 L306.00,571.40 L301.30,566.50Z" fill="#ff0000"/>
<path d="M357.70,562.40 L362.40,567.30 L357.70,572.20 L353.00,567.30Z" fill="#ff0000"/>
<path d="M357.70,569.70 L362.40,574.60 L357.70,579.50 L353.00,574.60Z" fill="#ff0000"/>
<path d="M357.70,576.80 L362.40,581.70 L357.70,586.60 L353.00,581.70Z" fill="#ff0000"/>
<path d="M357.70,588.40 L362.40,593.30 L357.70,598.20 L353.00,593.30Z" fill="#ff0000"/>
<path d="M349.00,588.40 L353.70,593.30 L349.00,598.20 L344.30,593.30Z" fill="#ff0000"/>
<path d="M357.70,597.60 L362.40,602.50 L357.70,607.40 L353.00,602.50Z" fill="#ff0000"/>
<path d="M409.30,609.30 L414.00,614.20 L409.30,619.10 L404.60,614.20Z" fill="#ff00ff"/>
<path d="M426.50,609.10 L431.20,614.00 L426.50,618.90 L421.80,614.00Z" fill="#ff00ff"/>
<path d="M469.60,624.20 L474.30,629.10 L469.60,634.00 L464.90,629.10Z" fill="#1a8cf0"/>
<path d="M487.10,632.00 L491.80,636.90 L487.10,641.80 L482.40,636.90Z" fill="#1a8cf0"/>
<path d="M478.30,649.10 L483.00,654.00 L478.30,658.90 L473.60,654.00Z" fill="#1a8cf0"/>
<path d="M495.70,657.50 L500.40,662.40 L495.70,667.30 L491.00,662.40Z" fill="#1a8cf0"/>
<path d="M495.70,668.40 L500.40,673.30 L495.70,678.20 L491.00,673.30Z" fill="#1a8cf0"/>
<path d="M495.70,675.10 L500.40,680.00 L495.70,684.90 L491.00,680.00Z" fill="#1a8cf0"/>
<path d="M513.10,671.10 L517.80,676.00 L513.10,680.90 L508.40,676.00Z" fill="#1a8cf0"/>
<path d="M521.50,682.60 L526.20,687.50 L521.50,692.40 L516.80,687.50Z" fill="#1a8cf0"/>
<path d="M513.00,691.10 L517.70,696.00 L513.00,700.90 L508.30,696.00Z" fill="#1a8cf0"/>
<path d="M521.50,699.10 L526.20,704.00 L521.50,708.90 L516.80,704.00Z" fill="#1a8cf0"/>
<path d="M530.00,713.60 L534.70,718.50 L530.00,723.40 L525.30,718.50Z" fill="#1a8cf0"/>
<path d="M547.50,747.10 L552.20,752.00 L547.50,756.90 L542.80,752.00Z" fill="#1a8cf0"/>
<rect x="99.0" y="437.2" width="500.0" height="402.00000000000006" fill="none" stroke="#000" stroke-width="1.8"/>
<path d="M116.24,839.20v-7M116.24,437.20v7M133.48,839.20v-14M133.48,437.20v14M150.72,839.20v-7M150.72,437.20v7M167.97,839.20v-7M167.97,437.20v7M185.21,839.20v-7M185.21,437.20v7M202.45,839.20v-7M202.45,437.20v7M219.69,839.20v-14M219.69,437.20v14M236.93,839.20v-7M236.93,437.20v7M254.17,839.20v-7M254.17,437.20v7M271.41,839.20v-7M271.41,437.20v7M288.66,839.20v-7M288.66,437.20v7M305.90,839.20v-14M305.90,437.20v14M323.14,839.20v-7M323.14,437.20v7M340.38,839.20v-7M340.38,437.20v7M357.62,839.20v-7M357.62,437.20v7M374.86,839.20v-7M374.86,437.20v7M392.10,839.20v-14M392.10,437.20v14M409.34,839.20v-7M409.34,437.20v7M426.59,839.20v-7M426.59,437.20v7M443.83,839.20v-7M443.83,437.20v7M461.07,839.20v-7M461.07,437.20v7M478.31,839.20v-14M478.31,437.20v14M495.55,839.20v-7M495.55,437.20v7M512.79,839.20v-7M512.79,437.20v7M530.03,839.20v-7M530.03,437.20v7M547.28,839.20v-7M547.28,437.20v7M564.52,839.20v-14M564.52,437.20v14M581.76,839.20v-7M581.76,437.20v7M99.0,457.30h7.5M599.0,457.30h-7.5M99.0,477.40h7.5M599.0,477.40h-7.5M99.0,497.50h7.5M599.0,497.50h-7.5M99.0,517.60h7.5M599.0,517.60h-7.5M99.0,537.70h15M599.0,537.70h-15M99.0,557.80h7.5M599.0,557.80h-7.5M99.0,577.90h7.5M599.0,577.90h-7.5M99.0,598.00h7.5M599.0,598.00h-7.5M99.0,618.10h7.5M599.0,618.10h-7.5M99.0,638.20h7.5M599.0,638.20h-7.5M99.0,658.30h7.5M599.0,658.30h-7.5M99.0,678.40h7.5M599.0,678.40h-7.5M99.0,698.50h7.5M599.0,698.50h-7.5M99.0,718.60h7.5M599.0,718.60h-7.5M99.0,738.70h15M599.0,738.70h-15M99.0,758.80h7.5M599.0,758.80h-7.5M99.0,778.90h7.5M599.0,778.90h-7.5M99.0,799.00h7.5M599.0,799.00h-7.5M99.0,819.10h7.5M599.0,819.10h-7.5" stroke="#000" stroke-width="1.8" fill="none"/>
<text x="90.5" y="548.90" text-anchor="end" font-size="33">10</text>
<text x="90.5" y="749.90" text-anchor="end" font-size="33">15</text>
<text x="133.48" y="880.5" text-anchor="middle" font-size="33">M5</text>
<text x="219.69" y="880.5" text-anchor="middle" font-size="33">L0</text>
<text x="305.90" y="880.5" text-anchor="middle" font-size="33">L5</text>
<text x="392.10" y="880.5" text-anchor="middle" font-size="33">T0</text>
<text x="478.31" y="880.5" text-anchor="middle" font-size="33">T5</text>
<text x="564.52" y="880.5" text-anchor="middle" font-size="33">Y0</text>
<text x="349" y="915.6" text-anchor="middle" font-size="33">Spectral type</text>
<text transform="translate(28.1,203.5) rotate(-90)" text-anchor="middle" font-size="32.5">Absolute magnitude</text>
<text transform="translate(28.1,638.2) rotate(-90)" text-anchor="middle" font-size="32.5">Absolute magnitude</text>
<text x="323.8" y="62.6" font-size="29.7">Y band (MKO)</text>
<text x="321.6" y="485.8" font-size="30">L’ band (MKO)</text>
<text x="186.5" y="373.5" font-size="24.8" fill="#c46210">0.31</text>
<text x="298.5" y="373.5" font-size="24.8" fill="#e00000">0.33</text>
<text x="402.5" y="373.5" font-size="24.8" fill="#e800e8">0.23</text>
<text x="480.3" y="373.5" font-size="24.8" fill="#1883e0">0.41</text>
<text x="186.5" y="808.2" font-size="24.8" fill="#c46210">0.24</text>
<text x="298.5" y="808.2" font-size="24.8" fill="#e00000">0.27</text>
<text x="402.5" y="808.2" font-size="24.8" fill="#e800e8">0.12</text>
<text x="480.3" y="808.2" font-size="24.8" fill="#1883e0">0.28</text>
<text x="535.5" y="497.7" font-size="24.8" fill="#c46210">1.08</text>
<text x="535.5" y="557.8" font-size="24.8" fill="#e00000">1.51</text>
<text x="534.3" y="596.8" font-size="24.8" fill="#e800e8">0.60</text>
<text x="534.3" y="657.4" font-size="24.8" fill="#1883e0">0.73</text>
</svg></body></html>
